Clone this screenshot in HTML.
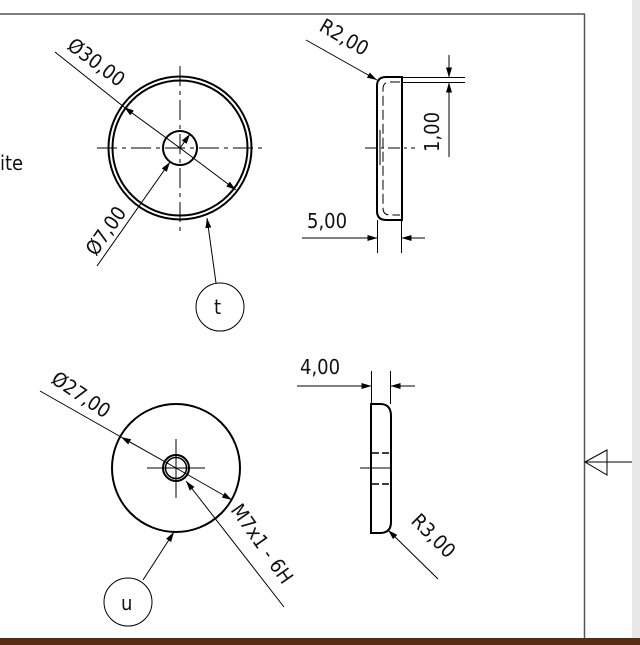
<!DOCTYPE html>
<html><head><style>
html,body{margin:0;padding:0;background:#fff;}
svg{display:block;}
text{font-family:"DejaVu Sans Condensed","DejaVu Sans","Liberation Sans",sans-serif;font-size:20px;fill:#111;}
</style></head><body>
<svg width="640" height="645" viewBox="0 0 640 645" xmlns="http://www.w3.org/2000/svg">
<defs>
<marker id="a" viewBox="0 0 10 6" refX="10" refY="3" markerWidth="10" markerHeight="6" orient="auto" markerUnits="userSpaceOnUse"><path d="M0,0L10,3L0,6z" fill="#000"/></marker>
</defs>
<rect x="632" y="0" width="8" height="638" fill="#e8e8e8"/>
<rect x="0" y="638" width="640" height="7" fill="#5a2c14"/>
<line x1="0" y1="14" x2="585" y2="14" stroke="#555" stroke-width="1.5"/>
<line x1="584.5" y1="14" x2="584.5" y2="638" stroke="#555" stroke-width="1.5"/>
<text x="0" y="170">ite</text>

<g fill="none" stroke="#000">
<circle cx="180" cy="148" r="71.5" stroke-width="2"/>
<circle cx="180" cy="148" r="67.5" stroke-width="2"/>
<circle cx="180" cy="148" r="17" stroke-width="2"/>
<line x1="97" y1="148" x2="263" y2="148" stroke-width="1" stroke-dasharray="20,5,4,5"/>
<line x1="180" y1="66" x2="180" y2="231" stroke-width="1" stroke-dasharray="20,5,4,5"/>
<line x1="55" y1="52" x2="124" y2="107" stroke-width="1"/>
<line x1="180" y1="148" x2="124" y2="107" stroke-width="1" marker-end="url(#a)"/>
<line x1="180" y1="148" x2="236" y2="190" stroke-width="1" marker-end="url(#a)"/>
<line x1="97" y1="266" x2="170" y2="162" stroke-width="1" marker-end="url(#a)"/>
<line x1="180" y1="148" x2="190" y2="134" stroke-width="1" marker-end="url(#a)"/>
<line x1="216" y1="283" x2="207" y2="218" stroke-width="1" marker-end="url(#a)"/>
<circle cx="220" cy="307" r="24" stroke-width="1"/>
</g>
<text transform="translate(66,48) rotate(37)">Ø30,00</text>
<text transform="translate(96,257) rotate(-55)">Ø7,00</text>
<text x="214" y="314">t</text>

<g fill="none" stroke="#000">
<path d="M402,77 L386,77 Q377,77 377,86 L377,211 Q377,220 386,220 L402,220 Z" stroke-width="2"/>
<path d="M400,82 L390,82 Q383,82 383,89 L383,208 Q383,215 390,215 L400,215" stroke-width="1" stroke-dasharray="10,4"/>
<line x1="365" y1="148" x2="415" y2="148" stroke-width="1" stroke-dasharray="12,4,3,4"/>
<line x1="380" y1="130" x2="380" y2="165" stroke-width="1"/>
<line x1="306" y1="40" x2="377" y2="80" stroke-width="1" marker-end="url(#a)"/>
<line x1="402" y1="77.5" x2="465" y2="77.5" stroke-width="1"/>
<line x1="402" y1="82.5" x2="465" y2="82.5" stroke-width="1"/>
<line x1="449" y1="55" x2="449" y2="77.5" stroke-width="1" marker-end="url(#a)"/>
<line x1="449" y1="157" x2="449" y2="82.5" stroke-width="1" marker-end="url(#a)"/>
<line x1="377.5" y1="220" x2="377.5" y2="253" stroke-width="1"/>
<line x1="401.5" y1="220" x2="401.5" y2="253" stroke-width="1"/>
<line x1="302" y1="238" x2="377.5" y2="238" stroke-width="1" marker-end="url(#a)"/>
<line x1="425" y1="238" x2="401.5" y2="238" stroke-width="1" marker-end="url(#a)"/>
</g>
<text transform="translate(318,30) rotate(30)">R2,00</text>
<text transform="translate(439,152) rotate(-90)">1,00</text>
<text x="307" y="228">5,00</text>

<g fill="none" stroke="#000">
<circle cx="176" cy="468" r="64" stroke-width="2"/>
<circle cx="176" cy="468" r="13" stroke-width="2"/>
<circle cx="176" cy="468" r="10.5" stroke-width="1.5"/>
<line x1="147" y1="468" x2="205" y2="468" stroke-width="1"/>
<line x1="176" y1="439" x2="176" y2="498" stroke-width="1"/>
<line x1="40" y1="391" x2="121" y2="437" stroke-width="1"/>
<line x1="176" y1="468" x2="121" y2="437" stroke-width="1" marker-end="url(#a)"/>
<line x1="176" y1="468" x2="232" y2="500" stroke-width="1" marker-end="url(#a)"/>
<line x1="284" y1="607" x2="186" y2="481" stroke-width="1" marker-end="url(#a)"/>
<line x1="143" y1="580" x2="174" y2="532" stroke-width="1" marker-end="url(#a)"/>
<circle cx="128" cy="602" r="24" stroke-width="1"/>
</g>
<text transform="translate(50,382) rotate(34)">Ø27,00</text>
<text transform="translate(230,510) rotate(55)">M7x1 - 6H</text>
<text x="121" y="610">u</text>

<g fill="none" stroke="#000">
<path d="M371,404 L380,404 Q391,404 391,416 L391,522 Q391,533 380,533 L371,533 Z" stroke-width="2"/>
<line x1="372" y1="453" x2="390" y2="453" stroke-width="1.5" stroke-dasharray="7,3"/>
<line x1="372" y1="484" x2="390" y2="484" stroke-width="1.5" stroke-dasharray="7,3"/>
<line x1="360" y1="468" x2="391" y2="468" stroke-width="1"/>
<line x1="371.5" y1="371" x2="371.5" y2="404" stroke-width="1"/>
<line x1="390.5" y1="371" x2="390.5" y2="404" stroke-width="1"/>
<line x1="297" y1="386" x2="371.5" y2="386" stroke-width="1" marker-end="url(#a)"/>
<line x1="415" y1="386" x2="390.5" y2="386" stroke-width="1" marker-end="url(#a)"/>
<line x1="438" y1="579" x2="388" y2="530" stroke-width="1" marker-end="url(#a)"/>
<path d="M585,462 L607,450 L607,475 Z" stroke-width="1"/>
<line x1="585" y1="462" x2="632" y2="462" stroke-width="1"/>
</g>
<text x="300" y="374">4,00</text>
<text transform="translate(410,522) rotate(45)">R3,00</text>
</svg>
</body></html>
